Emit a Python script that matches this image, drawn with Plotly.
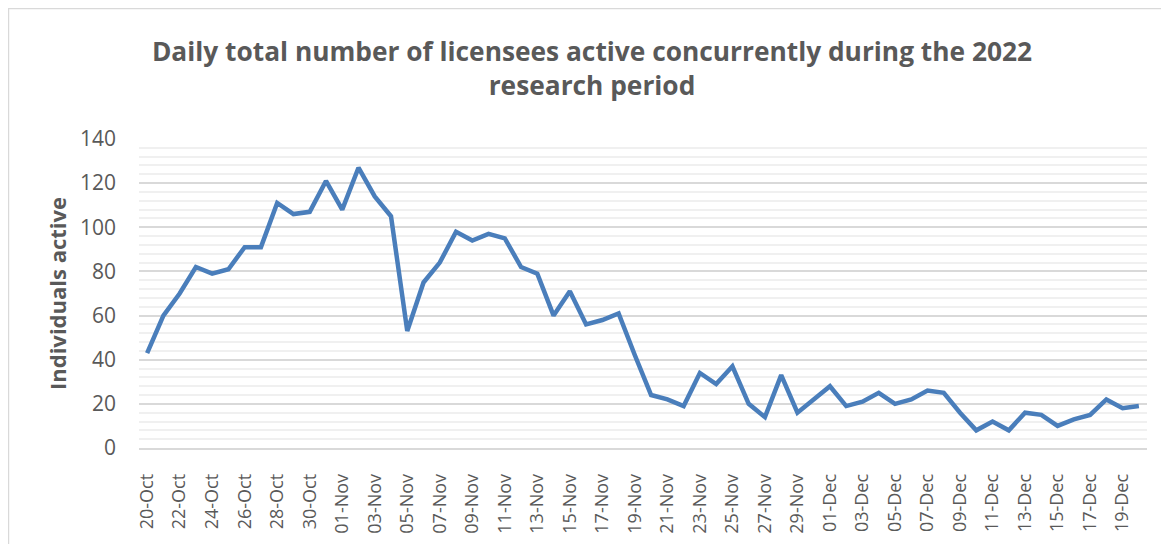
import pandas as pd
import plotly.graph_objects as go

# Daily counts, 20 Oct - 20 Dec 2022
days = pd.date_range("2022-10-20", "2022-12-20", freq="D").strftime("%d-%b").tolist()
active = [43, 60, 70, 82, 79, 81, 91, 91, 111, 106,
          107, 121, 108, 127, 114, 105, 53, 75, 84, 98,
          94, 97, 95, 82, 79, 60, 71, 56, 58, 61,
          42, 24, 22, 19, 34, 29, 37, 20, 14, 33,
          16, 22, 28, 19, 21, 25, 20, 22, 26, 25,
          16, 8, 12, 8, 16, 15, 10, 13, 15, 22,
          18, 19]
tick_days = days[::2]

grey = "#595959"
font = "Open Sans"

fig = go.Figure()
fig.add_trace(go.Scatter(x=days, y=active, mode="lines",
                         line=dict(color="#4a7ebb", width=4.5)))

# page body has an 8px margin, so the figure is a bit smaller than the window
fig.update_layout(
    width=1161, height=536,
    template="plotly_white",
    paper_bgcolor="white", plot_bgcolor="white",
    margin=dict(l=131, r=22, t=131, b=96),
    showlegend=False,
    font=dict(family=font, color=grey),
    title=dict(text="<b>Daily total number of licensees active concurrently during the 2022<br>research period</b>",
               x=0.503, xanchor="center", y=0.902, yanchor="middle",
               font=dict(size=26.3, color=grey, family=font)),
)

fig.update_xaxes(
    type="category", range=[-0.5, len(days) - 0.5],
    tickmode="array", tickvals=tick_days, ticktext=tick_days,
    tickangle=-90, tickfont=dict(size=18, color=grey),
    showgrid=False, showline=True, linecolor="#d9d9d9", linewidth=1.5,
    ticks="", ticklabelstandoff=17, automargin=False,
)

fig.update_yaxes(
    range=[0, 140], dtick=20,
    tickfont=dict(size=21, color=grey),
    gridcolor="#d9d9d9", gridwidth=1.5, zeroline=False,
    minor=dict(dtick=4, showgrid=True, gridcolor="#f0f0f0", gridwidth=1.5),
    ticklabelstandoff=22, automargin=False,
    title=dict(text="<b>Individuals active</b>", font=dict(size=22, color=grey), standoff=7),
)

# outer chart border
fig.add_shape(type="rect", xref="paper", yref="paper",
              x0=-0.1295, x1=1.05, y0=-0.4, y1=1.422,
              line=dict(color="#d9d9d9", width=1.5), fillcolor="rgba(0,0,0,0)")

fig.write_html("out.html")
